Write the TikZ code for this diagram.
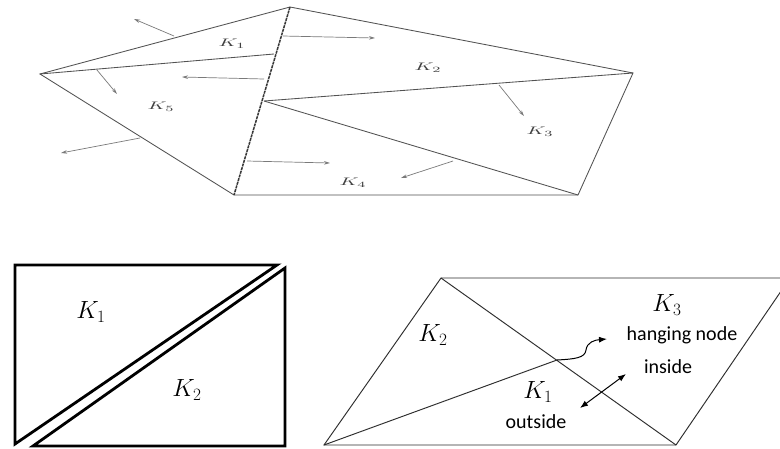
\documentclass[tikz,border=0pt]{standalone}
\usepackage{fontspec}
\newfontfamily\carl{Carlito}
\usetikzlibrary{arrows.meta}
\tikzset{
  mesh/.style={draw=black!68, line width=0.85pt},
  meshbold/.style={draw=black!78, line width=1.5pt, dash pattern=on 3pt off 0.8pt},
  normarrow/.style={draw=black!52, line width=0.7pt, -{Stealth[length=6pt,width=3.5pt]}},
  toplab/.style={text=black!75, font=\fontsize{11}{11}\selectfont, xscale=1.9, yscale=1},
  thickline/.style={draw=black, line width=2.8pt, line join=miter},
  thinline/.style={draw=black!82, line width=0.95pt},
  biglab/.style={font=\fontsize{23}{23}\selectfont},
  txtlab/.style={font=\carl\fontsize{20}{20}\selectfont},
  blackarrow/.style={draw=black, line width=1pt, -{Latex[length=8pt,width=6pt]}}
}
\begin{document}
\begin{tikzpicture}[x=1pt,y=-1pt]
\clip (0,0) rectangle (780,448);
\fill[white] (0,0) rectangle (780,448);
% ---------- top mesh ----------
\coordinate (A) at (40,74);
\coordinate (B) at (290,7);
\coordinate (C) at (633,73);
\coordinate (D) at (578,195);
\coordinate (E) at (234,195);
\coordinate (F) at (264,101);
\coordinate (G) at (274,54);
\draw[mesh] (A) -- (B) -- (C) -- (D) -- (E) -- cycle;
\draw[mesh] (A) -- (G);
\draw[mesh] (F) -- (C);
\draw[mesh] (F) -- (D);
\draw[meshbold] (B) -- (E);
% normals
\coordinate (n1s) at (174,36);  \coordinate (n1e) at (134,19);
\coordinate (n2s) at (97,70);   \coordinate (n2e) at (117,94);
\coordinate (n3s) at (264,79);  \coordinate (n3e) at (182,77);
\coordinate (n4s) at (140,138); \coordinate (n4e) at (61,153);
\coordinate (n5s) at (283,36);  \coordinate (n5e) at (375,38);
\coordinate (n6s) at (499,85);  \coordinate (n6e) at (524,116);
\coordinate (n7s) at (453,161); \coordinate (n7e) at (401,178);
\coordinate (n8s) at (247,161); \coordinate (n8e) at (330,163);
\draw[normarrow] (n1s) -- (n1e);
\draw[normarrow] (n2s) -- (n2e);
\draw[normarrow] (n3s) -- (n3e);
\draw[normarrow] (n4s) -- (n4e);
\draw[normarrow] (n5s) -- (n5e);
\draw[normarrow] (n6s) -- (n6e);
\draw[normarrow] (n7s) -- (n7e);
\draw[normarrow] (n8s) -- (n8e);
\node[toplab] (tk1) at (232,44) {$K_1$};
\node[toplab] (tk2) at (428,68) {$K_2$};
\node[toplab] (tk3) at (540,132) {$K_3$};
\node[toplab] (tk4) at (353,183) {$K_4$};
\node[toplab] (tk5) at (161,107) {$K_5$};
% ---------- bottom left ----------
\coordinate (Q1) at (277,265);
\coordinate (Q2) at (15,265);
\coordinate (Q3) at (15,444);
\coordinate (R1) at (285,268);
\coordinate (R2) at (285,446);
\coordinate (R3) at (33,446);
\draw[thickline] (Q1) -- (Q2) -- (Q3) -- cycle;
\draw[thickline] (R1) -- (R2) -- (R3) -- cycle;
\node[biglab] (bk1) at (91,312) {$K_1$};
\node[biglab] (bk2) at (187,390) {$K_2$};
% ---------- bottom right ----------
\coordinate (P1) at (441,278);
\coordinate (P2) at (790,278);
\coordinate (P3) at (676,445);
\coordinate (P4) at (324,445);
\coordinate (H) at (557,360);
\draw[thinline] (P1) -- (P2) -- (P3) -- (P4) -- cycle;
\draw[thinline] (P1) -- (P3);
\draw[thinline] (P4) -- (H);
\coordinate (W1) at (586,350);
\coordinate (W2) at (607,339);
\draw[blackarrow] (H) .. controls (575,359) and (585,358) .. (W1) .. controls (587,342) and (595,340) .. (W2);
\coordinate (D1) at (580,408);
\coordinate (D2) at (626,374);
\draw[blackarrow, {Latex[length=8pt,width=6pt]}-{Latex[length=8pt,width=6pt]}] (D1) -- (D2);
\node[biglab] (rk2) at (433,335) {$K_2$};
\node[biglab] (rk3) at (667,305) {$K_3$};
\node[biglab] (rk1) at (538,392) {$K_1$};
\node[txtlab] (hn) at (682,335) {hanging node};
\node[txtlab] (ins) at (668,367) {inside};
\node[txtlab] (outs) at (536,422) {outside};
\end{tikzpicture}
\end{document}
